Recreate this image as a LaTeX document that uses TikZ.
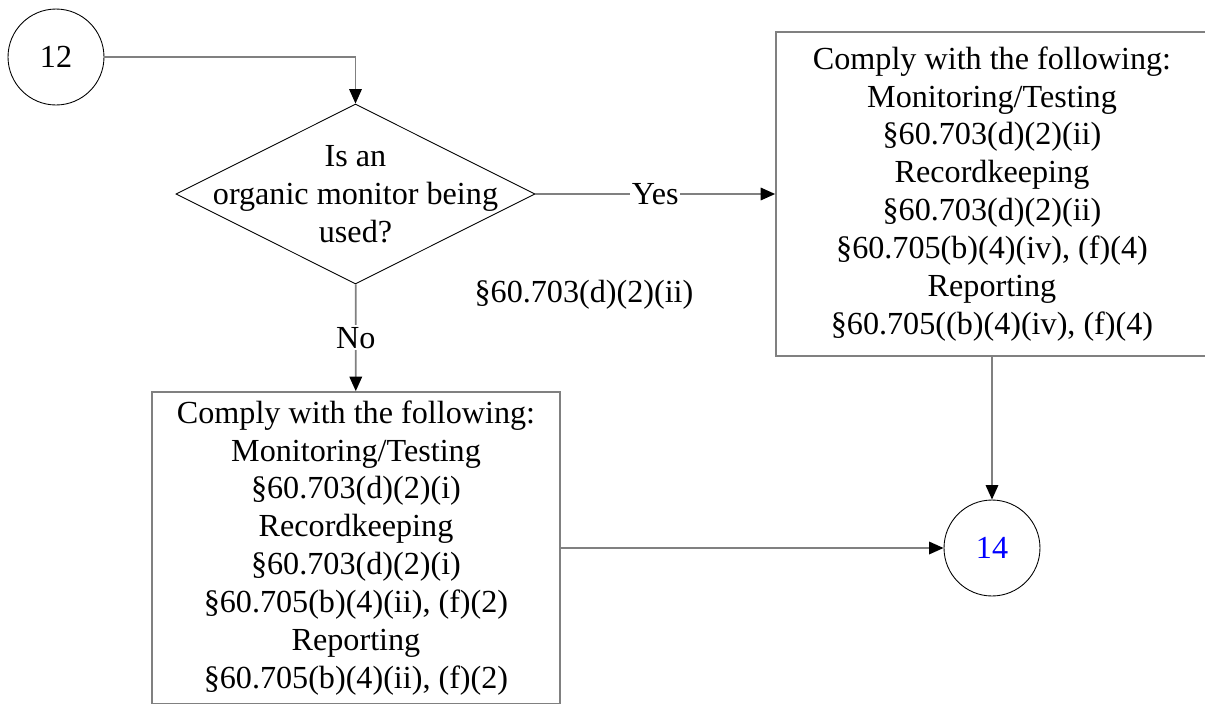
\documentclass[tikz,border=0pt]{standalone}
\usepackage{fontspec}
\setmainfont{Liberation Serif}
\usetikzlibrary{shapes.geometric,arrows.meta}
\begin{document}
\begin{tikzpicture}[
        x=0.02cm, y=-0.02cm, % coordenadas em pixels da figura
        every node/.style={font=\fontsize{18.3}{21.6}\selectfont, align=center},
        connector/.style={circle, draw, line width=0.5pt, minimum size=1.92cm, inner sep=0pt}, % conectores de pagina
        decision/.style={diamond, draw, line width=0.5pt, minimum width=7.18cm, minimum height=3.6cm, inner sep=0pt},
        rulebox/.style={rectangle, draw=gray, line width=1pt, inner sep=0pt},
        flow/.style={draw=gray, line width=1pt, -{Triangle[length=0.29cm, width=0.25cm, color=black]}},
        flowlabel/.style={fill=white, inner sep=1pt}
    ]
    \useasboundingbox (0,0) rectangle (1205,704);
    \node[connector] (c12) at (56,57) {12};
    \node[decision, label={[align=center]center:Is an\\organic monitor being\\used?}] (q) at (355.5,194) {};
    \node[rulebox, minimum width=8.64cm, minimum height=6.48cm] (yesbox) at (992,194) {Comply with the following:\\Monitoring/Testing\\§60.703(d)(2)(ii)\\Recordkeeping\\§60.703(d)(2)(ii)\\§60.705(b)(4)(iv), (f)(4)\\Reporting\\§60.705((b)(4)(iv), (f)(4)};
    \node[rulebox, minimum width=8.16cm, minimum height=6.24cm] (nobox) at (356,548) {Comply with the following:\\Monitoring/Testing\\§60.703(d)(2)(i)\\Recordkeeping\\§60.703(d)(2)(i)\\§60.705(b)(4)(ii), (f)(2)\\Reporting\\§60.705(b)(4)(ii), (f)(2)};
    \node[connector, text=blue] (c14) at (992,548) {14};
    \node (qref) at (584,295) {§60.703(d)(2)(ii)};
    % ligacoes
    \draw[flow] (c12) -| (q);
    \draw[flow] (q) -- node[flowlabel] {Yes} (yesbox);
    \draw[flow] (q) -- node[flowlabel] {No} (nobox);
    \draw[flow] (nobox) -- (c14);
    \draw[flow] (yesbox) -- (c14);
\end{tikzpicture}
\end{document}
